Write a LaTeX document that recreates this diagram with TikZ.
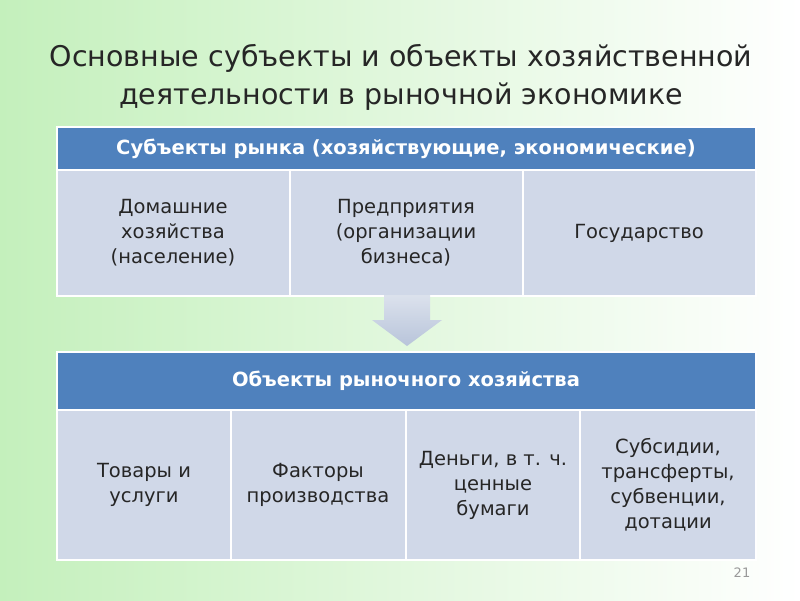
\documentclass[tikz,border=0pt]{standalone}
\usepackage{fontspec}
\setmainfont{DejaVu Sans}
\definecolor{hdr}{HTML}{4F81BD}
\definecolor{cellc}{HTML}{D0D8E8}
\definecolor{bgg}{HTML}{C4F0BC}
\definecolor{arr}{HTML}{B8C4DA}
\begin{document}
\begin{tikzpicture}[x=1pt,y=-1pt,
  hcell/.style={fill=hdr,draw=white,line width=1.2pt},
  bcell/.style={fill=cellc,draw=white,line width=1.2pt},
  htxt/.style={text=white,font=\fontsize{19.5}{23}\selectfont\bfseries,align=center},
  btxt/.style={text=black!85,font=\fontsize{19.5}{25}\selectfont,align=center}]
\useasboundingbox (0,0) rectangle (800,600);
\shade[left color=bgg,right color=white] (0,0) rectangle (800,600);
\node (title) at (401,77) [font=\fontsize{28.5}{38}\selectfont,align=center,text=black!85]
 {Основные субъекты и объекты хозяйственной\\деятельности в рыночной экономике};
% table 1
\draw[hcell] (57,127) rectangle (756,170);
\node[htxt] (h1) at (406,149) {Субъекты рынка (хозяйствующие, экономические)};
\draw[bcell] (57,170) rectangle (290,296);
\draw[bcell] (290,170) rectangle (523,296);
\draw[bcell] (523,170) rectangle (756,296);
\node[btxt] (a1) at (173,233) {Домашние\\хозяйства\\(население)};
\node[btxt] (a2) at (406,233) {Предприятия\\(организации\\бизнеса)};
\node[btxt] (a3) at (639,233) {Государство};
% arrow
\shade[top color=arr!50,bottom color=arr] (384,295) -- (430,295) -- (430,320) -- (442,320) -- (407,346) -- (372,320) -- (384,320) -- cycle;
% table 2
\draw[hcell] (57,352) rectangle (756,410);
\node[htxt] (h2) at (406,381) {Объекты рыночного хозяйства};
\draw[bcell] (57,410) rectangle (231,560);
\draw[bcell] (231,410) rectangle (406,560);
\draw[bcell] (406,410) rectangle (580,560);
\draw[bcell] (580,410) rectangle (756,560);
\node[btxt] (b1) at (144,485) {Товары и\\услуги};
\node[btxt] (b2) at (318,485) {Факторы\\производства};
\node[btxt] (b3) at (493,485) {Деньги, в т. ч.\\ценные\\бумаги};
\node[btxt] (b4) at (668,485) {Субсидии,\\трансферты,\\субвенции,\\дотации};
\node (pg) at (742,573) [text=black!40,font=\fontsize{13}{14}\selectfont] {21};
\end{tikzpicture}
\end{document}
